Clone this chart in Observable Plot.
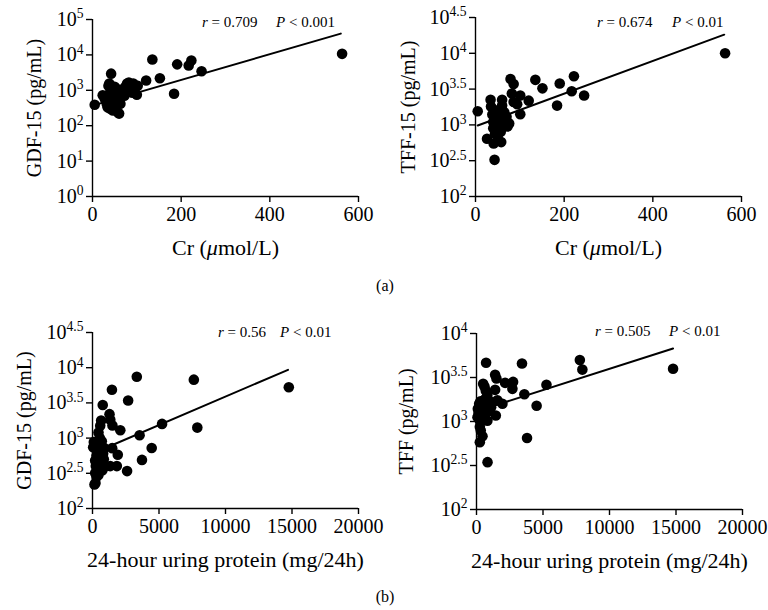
<!DOCTYPE html>
<html>
<head>
<meta charset="utf-8">
<script src="https://cdn.jsdelivr.net/npm/d3@7"></script>
<script src="https://cdn.jsdelivr.net/npm/@observablehq/plot@0.6"></script>
<style>
  html, body { margin: 0; padding: 0; background: #fff; }
  #wrap { position: relative; width: 768px; height: 610px; background: #fff; font-family: "Liberation Serif", serif; color: #000; }
  .panel { position: absolute; }
  .tag { position: absolute; width: 60px; text-align: center; font-size: 16px; line-height: 16px; }
</style>
</head>
<body>
<div id="wrap">
  <div class="panel" id="pA1" style="left:0;top:0"></div>
  <div class="panel" id="pA2" style="left:384px;top:0"></div>
  <div class="panel" id="pB1" style="left:0;top:300px"></div>
  <div class="panel" id="pB2" style="left:384px;top:300px"></div>
  <div class="tag" style="left:355px;top:278px">(a)</div>
  <div class="tag" style="left:355px;top:589px">(b)</div>
</div>
<script>
// ---------- Panel (a) left: Cr vs GDF-15 ----------
const crGDF_x = [5,23,42,121,135,152,184,191,217,223,246,563,
  28,32,34,36,38,40,40,43,45,45,46,48,48,50,50,52,53,55,55,57,58,60,60,62,63,65,68,70,72,75,78,80,82,85,88,90,92,95,98,100,102];
const crGDF_y = [390,720,2950,1900,7400,2200,800,5400,5000,6900,3450,10700,
  560,420,330,1350,1550,900,300,650,1100,480,270,800,380,1250,600,950,330,720,450,240,1050,220,580,800,420,650,900,1100,700,1300,1550,1000,1650,1200,1400,850,1550,1100,1300,750,1350];
const fitCrGDF_x = [2, 560];
const fitCrGDF_y = [375, 40000];

// ---------- Panel (a) right: Cr vs TFF-15 ----------
const crTFF_x = [5,563,135,151,190,222,217,245,184,120,79,86,82,101,86,94,101,76,43,34,60,60,26,41,58,
  35,38,40,40,42,44,45,46,48,50,50,52,55,55,57,58,60,62,65,68,70,72];
const crTFF_y = [1550,10000,4260,3240,3780,4780,2950,2570,1860,2180,4360,3720,2750,2570,2090,1950,1410,1050,325,2240,2240,1870,640,550,575,
  1800,1400,1100,900,1250,750,1600,1000,850,1200,700,1450,950,1100,800,1300,1000,1200,1500,1100,1300,950];
const fitCrTFF_x = [5, 561];
const fitCrTFF_y = [980, 18200];

// ---------- Panel (b) left: 24-h urine protein vs GDF-15 ----------
const prGDF_x = [14760,7620,3330,7880,5230,3540,4450,3720,2600,1460,2680,770,1280,1340,1500,2090,1480,1900,1830,1330,950,225,50,
  100,150,200,200,250,250,300,300,350,350,400,400,450,450,500,500,550,580,600,650,650,700,750,800,850,900];
const prGDF_y = [5270,6760,7450,1410,1590,1100,725,490,340,4850,3420,2950,2190,1820,1510,1290,720,580,400,400,400,230,740,
  880,220,480,320,700,400,560,280,900,350,650,450,1200,300,800,550,1000,1500,420,1780,700,900,350,600,500,720];
const fitPrGDF_x = [100, 14700];
const fitPrGDF_y = [615, 9330];

// ---------- Panel (b) right: 24-h urine protein vs TFF ----------
const prTFF_x = [14780,7770,7960,3420,720,5260,3600,4520,3800,830,
  1400,1500,500,700,820,2150,2750,2700,1400,1570,1950,200,820,400,820,1450,75,250,820,320,450,250,
  100,150,300,600,650,1000,1100,350,250];
const prTFF_y = [3980,5000,3890,4560,4660,2620,2040,1510,650,345,
  3390,3090,2690,2240,2000,2750,2820,2350,2290,1740,1590,1590,1510,1280,1280,1170,1120,1020,1020,790,680,580,
  1400,1250,1700,2500,1800,1700,1450,1100,870];
const fitPrTFF_x = [100, 14780];
const fitPrTFF_y = [1320, 6760];

// ---------- axes ----------
const crTicks = [0, 200, 400, 600];
const prTicks = [0, 5000, 10000, 15000, 20000];
const yTicksA1 = [1, 10, 100, 1000, 10000, 100000];
const yTicksHalf = [100, 10 ** 2.5, 1000, 10 ** 3.5, 10000, 10 ** 4.5];
const yTicksB2 = [100, 10 ** 2.5, 1000, 10 ** 3.5, 10000];

const statR = ["0.709", "0.674", "0.56", "0.505"];
const statP = ["0.001", "0.01", "0.01", "0.01"];

function panel(el, o) {
  const pts = o.x.map((v, i) => ({x: v, y: o.y[i]}));
  const fit = o.fx.map((v, i) => ({x: v, y: o.fy[i]}));
  const svg = Plot.plot({
    width: 384, height: o.height,
    marginLeft: o.ml, marginRight: 384 - o.ml - 266, marginTop: o.mt, marginBottom: o.mb,
    style: {fontFamily: "Liberation Serif, serif", fontSize: "20px", color: "#000", background: "transparent", overflow: "visible"},
    x: {domain: o.xDomain},
    y: {type: "log", domain: o.yDomain},
    marks: [
      Plot.axisX({ticks: o.xTicks, tickSize: 6, tickPadding: 4, tickFormat: d => String(d), strokeWidth: 1.4, fontSize: 20,
        label: o.xLabel, labelAnchor: "center", labelOffset: 58, labelArrow: "none"}),
      Plot.axisY({ticks: o.yTicks, tickSize: 6, tickPadding: 3, strokeWidth: 1.4, fontSize: 20,
        tickFormat: d => "10^" + (+Math.log10(d).toFixed(1)),
        label: o.yLabel, labelAnchor: "center", labelOffset: o.ylo, labelArrow: "none"}),
      Plot.ruleX([o.xDomain[0]], {y1: o.yDomain[0], y2: o.yDomain[1], stroke: "#000", strokeWidth: 1.4}),
      Plot.ruleY([o.yDomain[0]], {x1: o.xDomain[0], x2: o.xDomain[1], stroke: "#000", strokeWidth: 1.4}),
      Plot.line(fit, {x: "x", y: "y", stroke: "#000", strokeWidth: 2}),
      Plot.dot(pts, {x: "x", y: "y", r: 5.3, fill: "#000"})
    ]
  });
  const s = d3.select(svg);
  s.selectAll('g[aria-label="x-axis tick label"], g[aria-label="y-axis tick label"]').attr("font-size", "20px");
  s.selectAll('g[aria-label="y-axis tick label"] text').each(function () {
    const parts = this.textContent.split("^");
    this.textContent = parts[0];
    d3.select(this).append("tspan").attr("dy", "-0.55em").attr("font-size", "0.68em").text(parts[1]);
  });
  s.selectAll('g[aria-label="x-axis label"]').attr("font-size", "22px");
  s.selectAll('g[aria-label="x-axis label"] text').attr("font-size", "22px");
  s.selectAll('g[aria-label="y-axis label"]').attr("font-size", "20px");
  s.selectAll('g[aria-label="y-axis label"] text').attr("font-size", "20px");
  s.selectAll('g[aria-label="x-axis label"] text').each(function () {
    const t = this.textContent;
    const i = t.indexOf("μ");
    if (i >= 0) {
      this.textContent = t.slice(0, i);
      d3.select(this).append("tspan").attr("font-style", "italic").text("μ");
      d3.select(this).append("tspan").text(t.slice(i + 1));
    }
  });
  // statistics annotation
  const t1 = s.append("text").attr("x", o.rx).attr("y", o.sy).attr("font-size", "15px").attr("fill", "#000").attr("text-anchor", "start");
  t1.append("tspan").attr("font-style", "italic").text("r");
  t1.append("tspan").text(" = " + o.r);
  const t2 = s.append("text").attr("x", o.px).attr("y", o.sy).attr("font-size", "15px").attr("fill", "#000").attr("text-anchor", "start");
  t2.append("tspan").attr("font-style", "italic").text("P");
  t2.append("tspan").text(" < " + o.p);
  document.getElementById(el).appendChild(svg);
}

panel("pA1", {x: crGDF_x, y: crGDF_y, fx: fitCrGDF_x, fy: fitCrGDF_y, height: 270, ml: 92, mt: 19, mb: 74,
  xDomain: [0, 600], xTicks: crTicks, yDomain: [1, 100000], yTicks: yTicksA1,
  xLabel: "Cr (μmol/L)", yLabel: "GDF-15 (pg/mL)", ylo: 66, r: statR[0], p: statP[0], rx: 202, px: 276, sy: 27});
panel("pA2", {x: crTFF_x, y: crTFF_y, fx: fitCrTFF_x, fy: fitCrTFF_y, height: 270, ml: 91, mt: 17, mb: 74,
  xDomain: [0, 600], xTicks: crTicks, yDomain: [100, 10 ** 4.5], yTicks: yTicksHalf,
  xLabel: "Cr (μmol/L)", yLabel: "TFF-15 (pg/mL)", ylo: 75, r: statR[1], p: statP[1], rx: 213, px: 288, sy: 27});
panel("pB1", {x: prGDF_x, y: prGDF_y, fx: fitPrGDF_x, fy: fitPrGDF_y, height: 290, ml: 92, mt: 32, mb: 82,
  xDomain: [0, 20000], xTicks: prTicks, yDomain: [100, 10 ** 4.5], yTicks: yTicksHalf,
  xLabel: "24-hour uring protein (mg/24h)", yLabel: "GDF-15 (pg/mL)", ylo: 76, r: statR[2], p: statP[2], rx: 218, px: 280, sy: 37});
panel("pB2", {x: prTFF_x, y: prTFF_y, fx: fitPrTFF_x, fy: fitPrTFF_y, height: 290, ml: 92, mt: 33, mb: 81,
  xDomain: [0, 20000], xTicks: prTicks, yDomain: [100, 10000], yTicks: yTicksB2,
  xLabel: "24-hour uring protein (mg/24h)", yLabel: "TFF (pg/mL)", ylo: 78, r: statR[3], p: statP[3], rx: 211, px: 285, sy: 36});
</script>
</body>
</html>
